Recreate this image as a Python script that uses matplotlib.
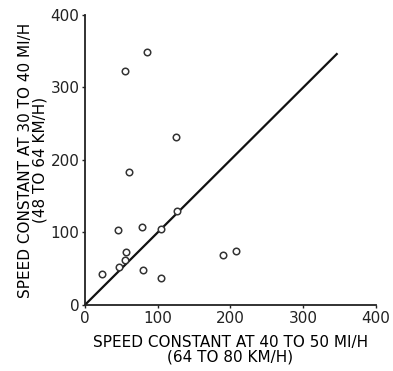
import numpy as np
import matplotlib
matplotlib.use("Agg")
import matplotlib.pyplot as plt

# speed constants
x_4050 = [86, 55, 125, 61, 45, 78, 105, 127, 24, 47, 56, 55, 80, 105, 190, 207]
y_3040 = [349, 323, 232, 184, 104, 108, 105, 129, 42, 52, 73, 62, 48, 37, 69, 74]
line_end = 347
ticks = [0, 100, 200, 300, 400]

plt.rcParams['font.family'] = ['DejaVu Sans']

fig = plt.figure(figsize=(3.93, 3.71), dpi=100)
ax = fig.add_axes([0.216, 0.178, 0.741, 0.782])

ax.plot([0, line_end], [0, line_end], color='#111111', lw=1.6, solid_capstyle='butt')
ax.scatter(x_4050, y_3040, s=22, facecolors='white', edgecolors='#333333',
           linewidths=1.1, zorder=3)

ax.set_xlim(0, 400)
ax.set_ylim(0, 400)
ax.set_xticks(ticks)
ax.set_yticks(ticks)
ax.spines['top'].set_visible(False)
ax.spines['right'].set_visible(False)
for s in ['left', 'bottom']:
    ax.spines[s].set_linewidth(1.3)
    ax.spines[s].set_color('#222222')
ax.tick_params(length=2, width=1, labelsize=11, pad=2, colors='#222222')

ax.set_xlabel("SPEED CONSTANT AT 40 TO 50 MI/H\n(64 TO 80 KM/H)", fontsize=11,
              labelpad=7, linespacing=0.95)
ax.set_ylabel("SPEED CONSTANT AT 30 TO 40 MI/H\n(48 TO 64 KM/H)", fontsize=11,
              labelpad=2, linespacing=0.95)

plt.savefig("out.png", dpi=100)
